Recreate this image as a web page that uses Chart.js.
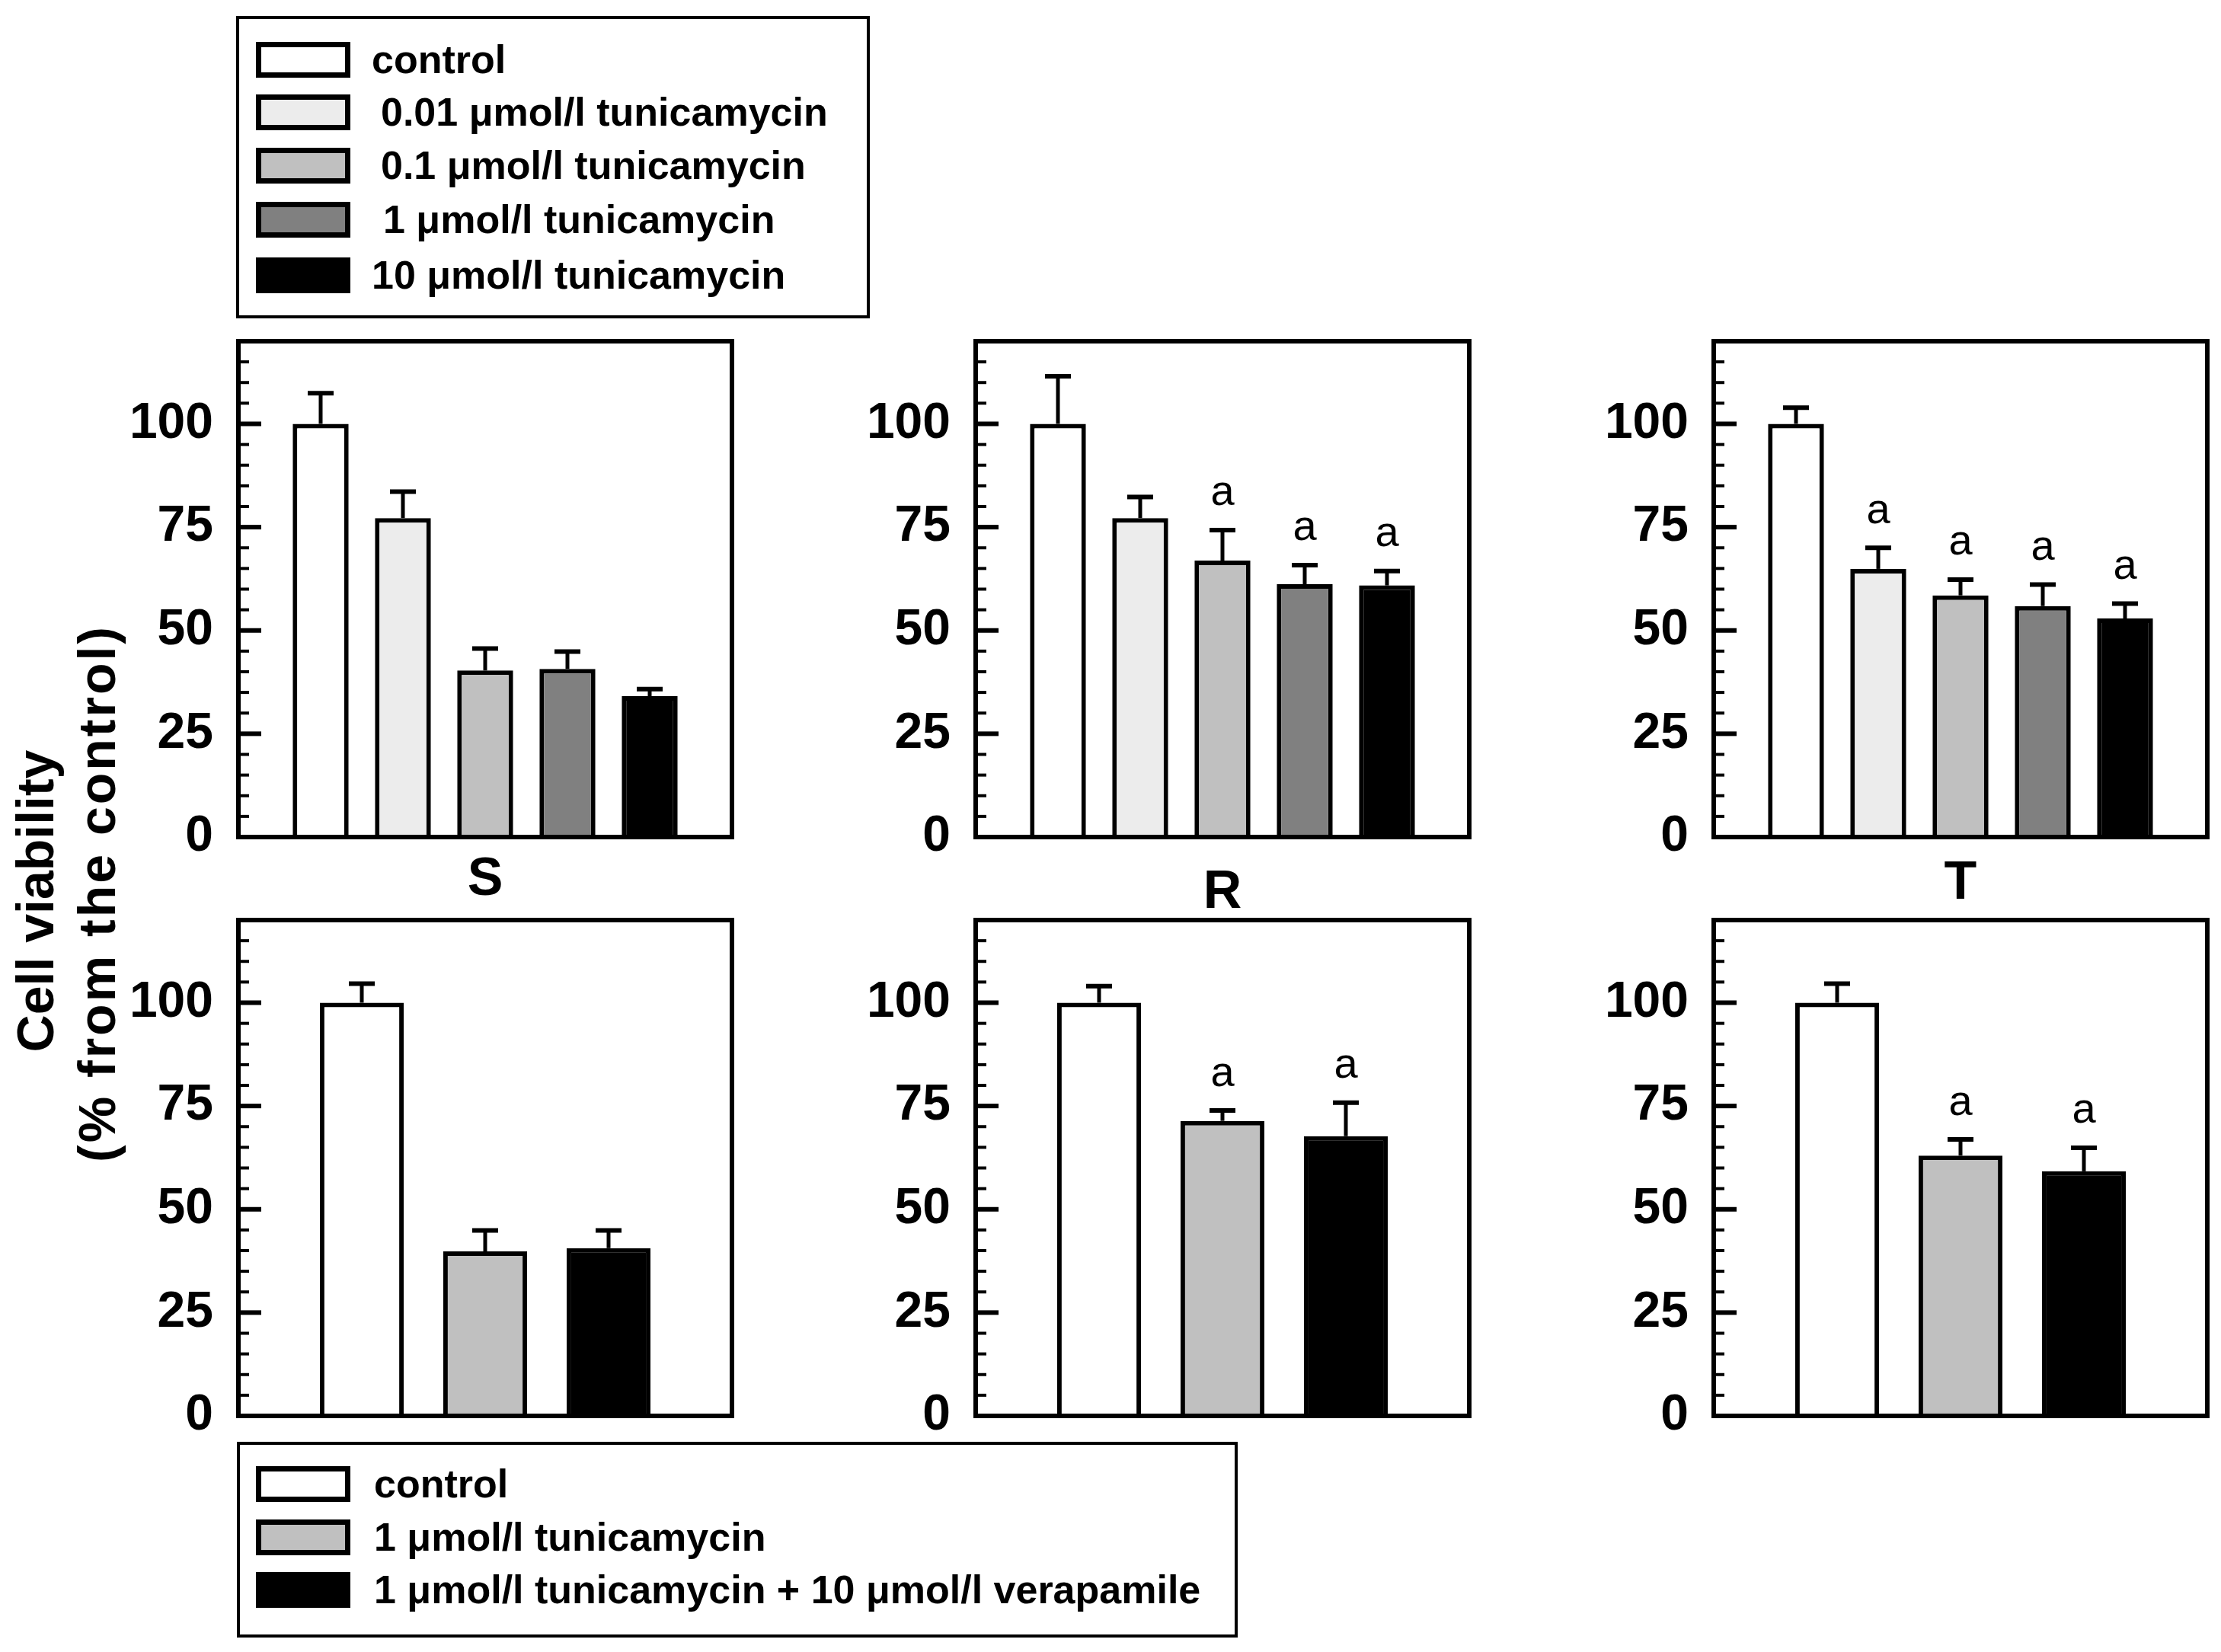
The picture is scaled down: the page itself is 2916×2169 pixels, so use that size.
<!DOCTYPE html>
<html>
<head>
<meta charset="utf-8">
<script src="https://cdn.jsdelivr.net/npm/chart.js@4.4.1/dist/chart.umd.min.js"></script>
<style>
  html, body { margin: 0; padding: 0; background: #fff; }
  #page { position: relative; width: 2916px; height: 2169px; overflow: hidden; font-family: 'Liberation Sans', Arial, sans-serif; }
  canvas { position: absolute; }
  .legend { position: absolute; border: 4px solid #000; box-sizing: border-box; background: #fff; }
  .sw { position: absolute; width: 124px; height: 47px; border: 7px solid #000; box-sizing: border-box; }
  .lt { position: absolute; font-weight: bold; font-size: 52px; line-height: 52px; white-space: nowrap; }
  .ytitle { position: absolute; font-weight: bold; font-size: 68px; line-height: 68px; white-space: nowrap;
            transform: translate(-50%, -50%) rotate(-90deg); }
</style>
</head>
<body>
<div id="page"></div>
<script>
// categories and legend texts
const panelNames = ['S', 'R', 'T'];
const doseLabels = ['control', '0.01 μmol/l tunicamycin', '0.1 μmol/l tunicamycin', '1 μmol/l tunicamycin', '10 μmol/l tunicamycin'];
const verapLabels = ['control', '1 μmol/l tunicamycin', '1 μmol/l tunicamycin + 10 μmol/l verapamile'];
const yTicks = [0, 25, 50, 75, 100];

// top row: tunicamycin doses (mean and upper error)
const doseS = [100, 77.2, 40.3, 40.7, 34.1];
const doseSerr = [7.4, 6.4, 5.3, 4.2, 1.7];
const doseR = [100, 77.2, 66.9, 61.2, 60.9];
const doseRerr = [11.5, 5.1, 7.4, 4.6, 3.5];
const doseT = [100, 64.9, 58.5, 55.9, 52.9];
const doseTerr = [3.9, 5.1, 3.8, 5.2, 3.6];
const doseSigS = ['', '', '', '', ''];
const doseSigR = ['', '', 'a', 'a', 'a'];
const doseSigT = ['', 'a', 'a', 'a', 'a'];

// bottom row: verapamile
const verapS = [100, 39.8, 40.6];
const verapSerr = [4.6, 5.1, 4.3];
const verapR = [100, 71.4, 67.7];
const verapRerr = [4.0, 2.5, 8.1];
const verapT = [100, 63.0, 59.2];
const verapTerr = [4.6, 3.9, 5.7];
const verapSigS = ['', '', ''];
const verapSigR = ['', 'a', 'a'];
const verapSigT = ['', 'a', 'a'];

// styles
const doseColors = ['#ffffff', '#ececec', '#c0c0c0', '#808080', '#000000'];
const verapColors = ['#ffffff', '#c0c0c0', '#000000'];

// layout (page pixels)
const panelLeft = [313, 1281, 2250];
const panelW = 648, panelH = 651;
const topRowY = 448, bottomRowY = 1208;
const titleGap = [57, 74, 62];

const page = document.getElementById('page');
Chart.defaults.font.family = "'Liberation Sans', Arial, sans-serif";
Chart.defaults.color = '#000';

// frame, inward ticks, error bars and significance letters
const panelDecor = {
  id: 'decor',
  afterDatasetsDraw(chart, args, opts) {
    const { ctx, chartArea: a, scales: { y } } = chart;
    const meta = chart.getDatasetMeta(0);
    const ds = chart.data.datasets[0];
    ctx.save();
    ctx.strokeStyle = '#000';
    ctx.fillStyle = '#000';
    ctx.font = "56px 'Liberation Sans', Arial, sans-serif";
    ctx.textAlign = 'center';
    ctx.textBaseline = 'alphabetic';
    meta.data.forEach((bar, i) => {
      const top = ds.data[i].y + opts.errs[i];
      const py = y.getPixelForValue(top);
      ctx.lineWidth = 5;
      ctx.beginPath();
      ctx.moveTo(bar.x, bar.y);
      ctx.lineTo(bar.x, py);
      ctx.stroke();
      ctx.lineWidth = 6;
      ctx.beginPath();
      ctx.moveTo(bar.x - 17, py);
      ctx.lineTo(bar.x + 17, py);
      ctx.stroke();
      if (opts.sig[i]) {
        ctx.fillText(opts.sig[i], bar.x, y.getPixelForValue(top + 6));
      }
    });
    // ticks every 5, longer at labelled values
    for (let v = 5; v < 120; v += 5) {
      const py = y.getPixelForValue(v);
      const major = yTicks.includes(v);
      ctx.lineWidth = major ? 6 : 4;
      ctx.beginPath();
      ctx.moveTo(a.left, py);
      ctx.lineTo(a.left + (major ? 30 : 14), py);
      ctx.stroke();
    }
    ctx.lineWidth = 6;
    ctx.strokeRect(a.left, a.top, a.right - a.left, a.bottom - a.top);
    ctx.restore();
  }
};

function makePanel(left, top, values, errs, sig, colors, title, gap) {
  // PT must exceed the y-scale label padding (half label + tick padding)
  const YW = 200, PT = 90, PR = 12, XH = 140;
  const cv = document.createElement('canvas');
  cv.width = YW + panelW + PR;
  cv.height = PT + panelH + XH;
  cv.style.left = (left - YW) + 'px';
  cv.style.top = (top - PT) + 'px';
  page.appendChild(cv);
  new Chart(cv, {
    type: 'bar',
    data: {
      datasets: [{
        data: values.map((v, i) => ({ x: i + 1, y: v })),
        backgroundColor: colors,
        borderColor: '#000',
        borderWidth: 6,
        barPercentage: 0.68,
        categoryPercentage: 1
      }]
    },
    options: {
      responsive: false,
      animation: false,
      devicePixelRatio: 1,
      layout: { padding: { top: PT, right: PR, left: 0, bottom: 0 } },
      plugins: {
        legend: { display: false },
        tooltip: { enabled: false },
        decor: { errs: errs, sig: sig }
      },
      scales: {
        x: {
          type: 'linear', min: 0, max: values.length + 1, offset: false,
          grid: { display: false }, border: { display: false },
          ticks: { display: false, stepSize: 1 },
          title: {
            display: !!title, text: title || '', color: '#000',
            font: { size: 70, weight: 'bold' },
            padding: { top: 0, bottom: XH - 42 - (gap || 0) }
          },
          afterFit: s => { s.height = XH; }
        },
        y: {
          min: 0, max: 120,
          grid: { display: false, drawTicks: false }, border: { display: false },
          afterBuildTicks: s => { s.ticks = yTicks.map(v => ({ value: v })); },
          ticks: { padding: 33, color: '#000', font: { size: 66, weight: 'bold' } },
          afterFit: s => { s.width = YW; }
        }
      }
    },
    plugins: [panelDecor]
  });
}

makePanel(panelLeft[0], topRowY, doseS, doseSerr, doseSigS, doseColors, panelNames[0], titleGap[0]);
makePanel(panelLeft[1], topRowY, doseR, doseRerr, doseSigR, doseColors, panelNames[1], titleGap[1]);
makePanel(panelLeft[2], topRowY, doseT, doseTerr, doseSigT, doseColors, panelNames[2], titleGap[2]);
makePanel(panelLeft[0], bottomRowY, verapS, verapSerr, verapSigS, verapColors, null, 0);
makePanel(panelLeft[1], bottomRowY, verapR, verapRerr, verapSigR, verapColors, null, 0);
makePanel(panelLeft[2], bottomRowY, verapT, verapTerr, verapSigT, verapColors, null, 0);

// legends
function makeLegend(left, top, width, height, labels, colors, rowY, textX) {
  const box = document.createElement('div');
  box.className = 'legend';
  Object.assign(box.style, { left: left + 'px', top: top + 'px', width: width + 'px', height: height + 'px' });
  labels.forEach((lab, i) => {
    const sw = document.createElement('div');
    sw.className = 'sw';
    sw.style.background = colors[i];
    sw.style.left = (336 - left - 4) + 'px';
    sw.style.top = (rowY[i] - top - 4 - 23) + 'px';
    box.appendChild(sw);
    const t = document.createElement('div');
    t.className = 'lt';
    t.textContent = lab;
    t.style.left = (textX[i] - left - 4) + 'px';
    t.style.top = (rowY[i] - top - 4 - 26) + 'px';
    box.appendChild(t);
  });
  page.appendChild(box);
}
makeLegend(310, 21, 832, 397, doseLabels, doseColors, [78, 147, 217, 288, 361], [488, 500, 500, 503, 488]);
makeLegend(311, 1893, 1314, 257, verapLabels, verapColors, [1948, 2018, 2087], [491, 491, 491]);

// shared y-axis title
[['Cell viability', 46, 1183, 0], ['(% from the control)', 127, 1173, 3]].forEach(([txt, cx, cy, ls]) => {
  const d = document.createElement('div');
  d.className = 'ytitle';
  d.textContent = txt;
  d.style.left = cx + 'px';
  d.style.top = cy + 'px';
  d.style.letterSpacing = ls + 'px';
  page.appendChild(d);
});
</script>
</body>
</html>
